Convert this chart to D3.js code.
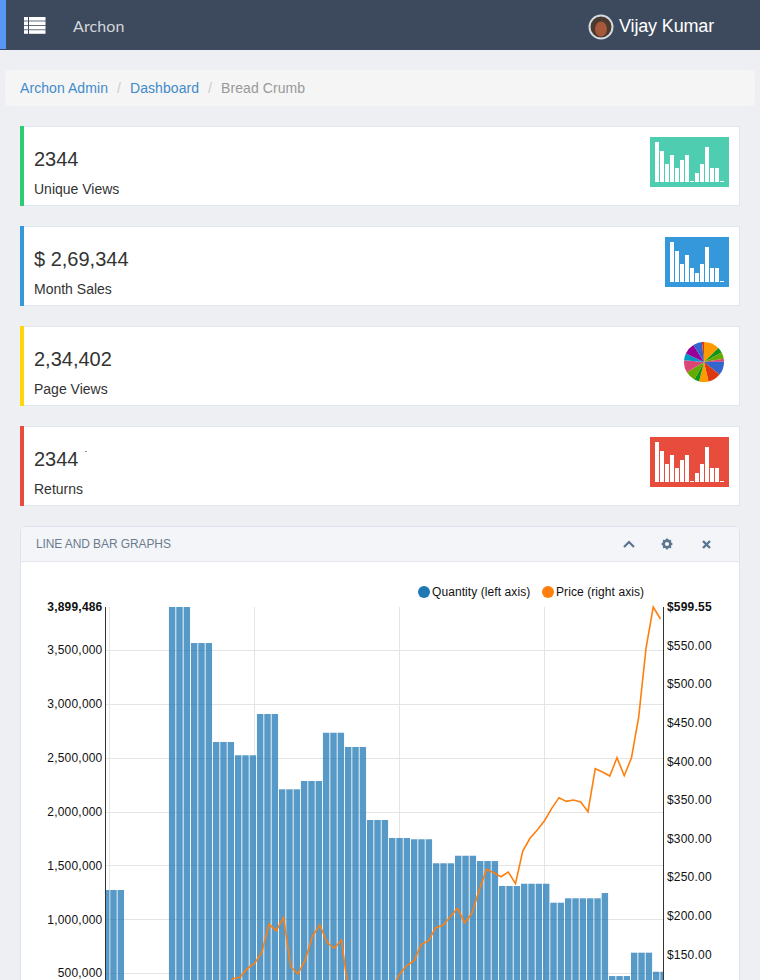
<!DOCTYPE html>
<html>
<head>
<meta charset="utf-8">
<title>Archon</title>
<script src="https://cdn.jsdelivr.net/npm/d3@7"></script>
<style>
html, body { margin: 0; padding: 0; height: 980px; overflow: hidden; background: #eeeff3; }
svg { display: block; font-family: "Liberation Sans", Arial, sans-serif; }
.axis path { display: none; }
.axis line { display: none; }
.axis text { font-size: 12px; fill: #111; letter-spacing: 0.2px; }
</style>
</head>
<body>
<svg id="page" width="760" height="980"></svg>
<script>
// Breadcrumb + summary cards
const crumbs = ["Archon Admin", "Dashboard", "Bread Crumb"];
const cardValues = ["2344", "$ 2,69,344", "2,34,402", "2344"];
const cardLabels = ["Unique Views", "Month Sales", "Page Views", "Returns"];
const cardColors = ["#2ecc71", "#3498db", "#ffd60a", "#e74c3c"];
const sparkColors = ["#4ecdb0", "#3498db", null, "#e74c3c"];
const sparkA = [40, 31, 18, 27, 14, 22, 27, 1, 9, 18, 35, 14, 14, 1];
const sparkB = [40, 31, 18, 27, 14, 9, 18, 35, 14, 14, 1];
const pieValues = [46, 16, 19, 8, 40, 38, 27, 15, 30, 36, 20, 33, 26, 6];
const pieColors = ["#ff9900", "#109618", "#66aa00", "#dd4477", "#3366cc", "#dc3912", "#ff9900",
  "#109618", "#66aa00", "#dd4477", "#0099c6", "#990099", "#3366cc", "#dc3912"];

// Main chart, one entry per month
const quantity = [
  1272000, 1272000, 1272000, 0, 0, 0, 0, 0, 0,
  3899486, 3899486, 3899486, 3565000, 3565000, 3565000, 2646000, 2646000, 2646000,
  2523000, 2523000, 2523000, 2906000, 2906000, 2906000, 2207000, 2207000, 2207000,
  2284000, 2284000, 2284000, 2732000, 2732000, 2732000, 2600000, 2600000, 2600000,
  1922000, 1922000, 1922000, 1755000, 1755000, 1755000, 1743000, 1743000, 1743000,
  1520000, 1520000, 1520000, 1590000, 1590000, 1590000, 1541000, 1541000, 1541000,
  1309000, 1309000, 1309000, 1330000, 1330000, 1330000, 1330000, 1154000, 1154000,
  1195000, 1195000, 1195000, 1195000, 1195000, 1244000, 473000, 473000, 473000,
  690000, 690000, 690000, 513000, 513000
];
const price = [
  68, 72, 75, 78, 74, 80, 85, 82, 88, 84, 90, 93, 91, 95, 92, 96, 97, 118.5, 120.3, 131.5,
  138.4, 152.2, 188.9, 180.6, 197.5, 134, 124.6, 142.7, 173.8, 188, 165.6, 157.9, 168.6, 98.7, 90, 85,
  80, 88, 95, 106.5, 124, 135.5, 141.4, 163, 167.3, 184.5, 187.6, 198.7, 209.6, 191, 203.2, 233.3,
  260, 255.7, 250.5, 256.6, 241.4, 283.8, 300.2, 311, 323, 339, 352.8, 348, 349.8, 347.2, 334.6,
  390.3, 386, 380.8, 404.5, 381.2, 404.5, 457.6, 546, 599.55, 584
];
const quantityTicks = [500000, 1000000, 1500000, 2000000, 2500000, 3000000, 3500000, 3899486];
const priceTicks = [150, 200, 250, 300, 350, 400, 450, 500, 550, 599.55];
const xGridTicks = [0, 20, 40, 60];
const legendLabels = ["Quantity (left axis)", "Price (right axis)"];
const legendColors = ["#1f77b4", "#ff7f0e"];

const svg = d3.select("#page");

// ---- top bar
svg.append("rect").attr("width", 760).attr("height", 50).attr("fill", "#3d4a5d");
svg.append("rect").attr("width", 6).attr("height", 49).attr("fill", "#5897f5");
const listIcon = svg.append("g").attr("fill", "#fff");
[17, 21.4, 25.8, 30.2].forEach(y => {
  listIcon.append("rect").attr("x", 24).attr("y", y).attr("width", 4).attr("height", 3.6);
  listIcon.append("rect").attr("x", 29).attr("y", y).attr("width", 16.5).attr("height", 3.6);
});
svg.append("text").attr("x", 73).attr("y", 32).attr("font-family", "Lato, sans-serif")
  .attr("font-size", 16).attr("letter-spacing", 0.1).attr("fill", "#d4d6da").text("Archon");
svg.append("circle").attr("cx", 601).attr("cy", 27).attr("r", 11.5)
  .attr("fill", "#4a3a30").attr("stroke", "#d5d9e0").attr("stroke-width", 2);
svg.append("ellipse").attr("cx", 601).attr("cy", 29).attr("rx", 6).attr("ry", 7.5).attr("fill", "#a8583a");
svg.append("text").attr("x", 619).attr("y", 32).attr("font-size", 18).attr("letter-spacing", -0.15).attr("fill", "#fff").text("Vijay Kumar");

// ---- breadcrumb
svg.append("rect").attr("x", 5).attr("y", 70).attr("width", 750).attr("height", 36).attr("rx", 4).attr("fill", "#f5f5f5");
const crumbText = svg.append("text").attr("x", 20).attr("y", 93).attr("font-size", 14).attr("letter-spacing", 0.07);
crumbs.forEach((c, i) => {
  crumbText.append("tspan").attr("fill", i < crumbs.length - 1 ? "#428bca" : "#999").attr("dx", i ? 9 : 0).text(c);
  if (i < crumbs.length - 1) {
    crumbText.append("tspan").attr("fill", "#ccc").attr("dx", 9).text("/");
  }
});

// ---- cards
const cards = svg.selectAll("g.card").data(cardValues).join("g")
  .attr("class", "card")
  .attr("transform", (d, i) => `translate(20,${126 + i * 100})`);
cards.append("rect").attr("x", 0.5).attr("y", 0.5).attr("width", 719).attr("height", 79)
  .attr("fill", "#fff").attr("stroke", "#dde6f0");
cards.append("rect").attr("width", 4).attr("height", 80).attr("fill", (d, i) => cardColors[i]);
cards.append("text").attr("x", 14).attr("y", 40).attr("font-size", 20).attr("fill", "#333").text(d => d);
cards.append("text").attr("x", 14).attr("y", 68).attr("font-size", 14).attr("fill", "#333").text((d, i) => cardLabels[i]);

// the stray speck after the last card's number
svg.append("rect").attr("x", 85).attr("y", 451).attr("width", 2).attr("height", 1).attr("fill", "#6f9fb0");

function drawSpark(card, values, color) {
  const w = values.length * 5 + 9;
  const g = card.append("g").attr("transform", `translate(${709 - w},11)`);
  const sx = d3.scaleBand().domain(d3.range(values.length)).range([5, 5 + values.length * 5]);
  const sy = d3.scaleLinear().domain([0, 40]).range([45, 5]);
  g.append("rect").attr("width", w).attr("height", 50).attr("fill", color);
  g.selectAll("rect.b").data(values).join("rect").attr("class", "b")
    .attr("x", (d, i) => sx(i)).attr("width", 4)
    .attr("y", d => sy(d)).attr("height", d => 45 - sy(d)).attr("fill", "#fff");
}
cards.each(function (d, i) {
  if (sparkColors[i]) drawSpark(d3.select(this), i === 1 ? sparkB : sparkA, sparkColors[i]);
});

// pie in the third card
const pieG = cards.filter((d, i) => i === 2).append("g").attr("transform", "translate(684,36)");
const pieLayout = d3.pie().sort(null).startAngle(0).endAngle(2 * Math.PI);
const pieArc = d3.arc().innerRadius(0).outerRadius(20);
pieG.selectAll("path").data(pieLayout(pieValues)).join("path")
  .attr("d", pieArc).attr("fill", (d, i) => pieColors[i]);

// ---- panel
svg.append("rect").attr("x", 20.5).attr("y", 526.5).attr("width", 719).attr("height", 470).attr("rx", 4)
  .attr("fill", "#fff").attr("stroke", "#dde3ec");
svg.append("path").attr("d", "M21,561V531a4,4 0 0 1 4,-4H735a4,4 0 0 1 4,4V561Z").attr("fill", "#f4f5f9");
svg.append("line").attr("x1", 21).attr("x2", 739).attr("y1", 561.5).attr("y2", 561.5).attr("stroke", "#e3e6ec");
svg.append("text").attr("x", 36).attr("y", 548).attr("font-size", 12).attr("letter-spacing", -0.1).attr("fill", "#6b7c8d").text("LINE AND BAR GRAPHS");
const iconColor = "#5b7590";
svg.append("path").attr("d", "M624,547L629,542L634,547").attr("fill", "none").attr("stroke", iconColor).attr("stroke-width", 2.2);
svg.append("circle").attr("cx", 667).attr("cy", 544).attr("r", 3.4).attr("fill", "none").attr("stroke", iconColor).attr("stroke-width", 2.6);
d3.range(8).forEach(k => {
  const a = k * Math.PI / 4;
  svg.append("line").attr("x1", 667 + 3.5 * Math.cos(a)).attr("y1", 544 + 3.5 * Math.sin(a))
    .attr("x2", 667 + 5.4 * Math.cos(a)).attr("y2", 544 + 5.4 * Math.sin(a))
    .attr("stroke", iconColor).attr("stroke-width", 1.8);
});
svg.append("path").attr("d", "M703,541L710,548M710,541L703,548").attr("stroke", iconColor).attr("stroke-width", 2.4);

// ---- chart
const plotL = 105.5, plotR = 663.5, plotT = 607, plotB = 1027;
const yQty = d3.scaleLinear().domain([0, 3899486]).range([plotB, plotT]);
const yPrice = d3.scaleLinear().domain([56, 599.55]).range([plotB, plotT]);
// bars and line do not share an x range in this chart
const xBar = d3.scaleLinear().domain([0, 76]).range([106.3, 663.7]);
const xLine = d3.scaleLinear().domain([0, 76]).range([109.5, 660.5]);
const barW = xBar(1) - xBar(0);

svg.append("clipPath").attr("id", "plot-clip").append("rect")
  .attr("x", plotL).attr("y", plotT - 2).attr("width", plotR - plotL).attr("height", plotB - plotT + 2);

const grid = svg.append("g").attr("stroke", "#e4e4e4");
grid.selectAll("line.h").data(quantityTicks.slice(0, -1)).join("line").attr("class", "h")
  .attr("x1", plotL).attr("x2", plotR).attr("y1", d => Math.round(yQty(d)) + 0.5).attr("y2", d => Math.round(yQty(d)) + 0.5);
grid.selectAll("line.v").data(xGridTicks).join("line").attr("class", "v")
  .attr("x1", d => xLine(d)).attr("x2", d => xLine(d)).attr("y1", plotT).attr("y2", plotB);

svg.append("g").attr("clip-path", "url(#plot-clip)")
  .selectAll("rect").data(quantity).join("rect")
  .attr("x", (d, i) => xBar(i) - barW / 2 + 0.3)
  .attr("width", barW - 0.9)
  .attr("y", d => yQty(d))
  .attr("height", d => plotB - yQty(d))
  .attr("fill", "#1f77b4").attr("fill-opacity", 0.75);

const priceLine = d3.line().x((d, i) => xLine(i)).y(d => yPrice(d));
svg.append("path").datum(price).attr("d", priceLine)
  .attr("fill", "none").attr("stroke", "#ff7f0e").attr("stroke-width", 1.6);

svg.append("line").attr("x1", plotL).attr("x2", plotL).attr("y1", plotT).attr("y2", plotB).attr("stroke", "#333");
svg.append("line").attr("x1", plotR).attr("x2", plotR).attr("y1", plotT).attr("y2", plotB).attr("stroke", "#333");

const axisL = svg.append("g").attr("class", "axis").attr("transform", `translate(${plotL},0)`)
  .call(d3.axisLeft(yQty).tickValues(quantityTicks).tickFormat(d3.format(",")).tickSize(0).tickPadding(3));
axisL.selectAll("text").attr("font-weight", d => d === 3899486 ? "bold" : null);
const axisR = svg.append("g").attr("class", "axis").attr("transform", `translate(${plotR},0)`)
  .call(d3.axisRight(yPrice).tickValues(priceTicks).tickFormat(d3.format("$,.2f")).tickSize(0).tickPadding(3.5));
axisR.selectAll("text").attr("font-weight", d => d === 599.55 ? "bold" : null);

const legendG = svg.selectAll("g.legend").data(legendLabels).join("g").attr("class", "legend")
  .attr("transform", (d, i) => `translate(${i === 0 ? 424 : 548},592)`);
legendG.append("circle").attr("r", 6).attr("fill", (d, i) => legendColors[i]);
legendG.append("text").attr("x", 8).attr("y", 4).attr("font-size", 12).attr("letter-spacing", 0.08).attr("fill", "#111").text(d => d);
</script>
</body>
</html>
